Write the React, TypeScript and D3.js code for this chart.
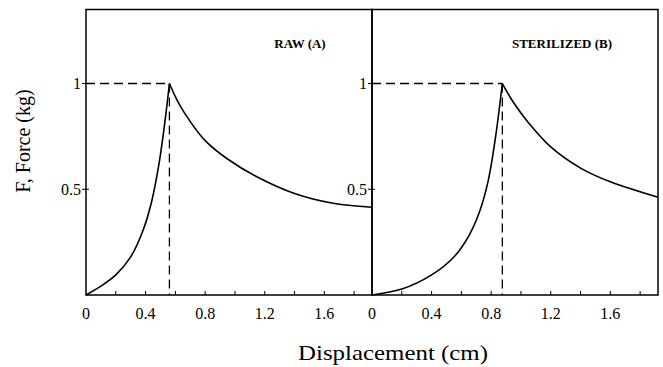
import React from "react";
import * as d3 from "d3";

const rawRiseX = [0, 0.1, 0.2, 0.3, 0.38, 0.44, 0.49, 0.53, 0.56];
const rawRiseF = [0, 0.042, 0.095, 0.18, 0.3, 0.44, 0.62, 0.82, 1.0];
const rawDecayX = [0.56, 0.62, 0.7, 0.8, 0.95, 1.15, 1.4, 1.65, 1.92];
const rawDecayF = [1.0, 0.91, 0.82, 0.73, 0.643, 0.558, 0.48, 0.435, 0.415];

const sterRiseX = [0, 0.2, 0.4, 0.55, 0.65, 0.72, 0.78, 0.83, 0.875];
const sterRiseF = [0, 0.028, 0.095, 0.18, 0.28, 0.39, 0.54, 0.75, 1.0];
const sterDecayX = [0.875, 0.95, 1.05, 1.2, 1.4, 1.6, 1.92];
const sterDecayF = [1.0, 0.91, 0.815, 0.7, 0.6, 0.535, 0.462];

const xTickLabels = [0, 0.4, 0.8, 1.2, 1.6];
const xMinorTicks = [0.2, 0.4, 0.6, 0.8, 1.0, 1.2, 1.4, 1.6, 1.8];
const yTickLabels = [0.5, 1];

const panels = [
  { title: "RAW (A)", riseX: rawRiseX, riseF: rawRiseF, decayX: rawDecayX, decayF: rawDecayF, peakX: 0.56 },
  { title: "STERILIZED (B)", riseX: sterRiseX, riseF: sterRiseF, decayX: sterDecayX, decayF: sterDecayF, peakX: 0.875 },
];

const W = 663, H = 367;
const top = 9.5, bottom = 295;
const panelLeft = [86, 372];
const panelW = 286;
const font = "'Liberation Serif', 'Times New Roman', serif";

export default function App() {
  const y = d3.scaleLinear().domain([0, 1.35]).range([bottom, top]);
  return (
    <svg width={W} height={H} style={{ position: "absolute", left: 0, top: 0, background: "#fff" }}>
      {panels.map((p, i) => {
        const x = d3.scaleLinear().domain([0, 1.92]).range([panelLeft[i], panelLeft[i] + panelW]);
        const line = d3
          .line<[number, number]>()
          .x((d) => x(d[0]))
          .y((d) => y(d[1]))
          .curve(d3.curveCatmullRom.alpha(0.5));
        const rise = p.riseX.map((v, k) => [v, p.riseF[k]] as [number, number]);
        const decay = p.decayX.map((v, k) => [v, p.decayF[k]] as [number, number]);
        const x0 = panelLeft[i];
        return (
          <g key={i}>
            <rect x={x0} y={top} width={panelW} height={bottom - top} fill="none" stroke="#000" strokeWidth={1.5} />
            {xMinorTicks.map((t) => (
              <line key={t} x1={x(t)} x2={x(t)} y1={bottom} y2={bottom - 4} stroke="#000" strokeWidth={1} />
            ))}
            {xTickLabels.map((t) => (
              <text key={t} x={x(t)} y={319} textAnchor="middle" fontFamily={font} fontSize={16} fill="#000">
                {String(t)}
              </text>
            ))}
            {yTickLabels.map((t) => (
              <g key={t}>
                <line x1={x0 - 4} x2={x0 + 3} y1={y(t)} y2={y(t)} stroke="#000" strokeWidth={1} />
                <text x={x0 - 5} y={y(t) + 5.3} textAnchor="end" fontFamily={font} fontSize={16} fill="#000">
                  {String(t)}
                </text>
              </g>
            ))}
            <line x1={x0} x2={x(p.peakX)} y1={y(1)} y2={y(1)} stroke="#000" strokeWidth={1.3} strokeDasharray="9,5" />
            <line x1={x(p.peakX)} x2={x(p.peakX)} y1={y(1)} y2={bottom} stroke="#000" strokeWidth={1.3} strokeDasharray="9,5" />
            <path d={line(rise) || ""} fill="none" stroke="#000" strokeWidth={1.6} />
            <path d={line(decay) || ""} fill="none" stroke="#000" strokeWidth={1.6} />
            <text x={i === 0 ? 300 : 562} y={48} textAnchor="middle" fontFamily={font} fontSize={13} fontWeight="bold" fill="#000">
              {p.title}
            </text>
          </g>
        );
      })}
      <text x={298} y={360} textLength={190} lengthAdjust="spacingAndGlyphs" fontFamily={font} fontSize={21} fill="#000">
        Displacement (cm)
      </text>
      <text transform="translate(30,141) rotate(-90)" textAnchor="middle" fontFamily={font} fontSize={20} fill="#000">
        F, Force (kg)
      </text>
    </svg>
  );
}
